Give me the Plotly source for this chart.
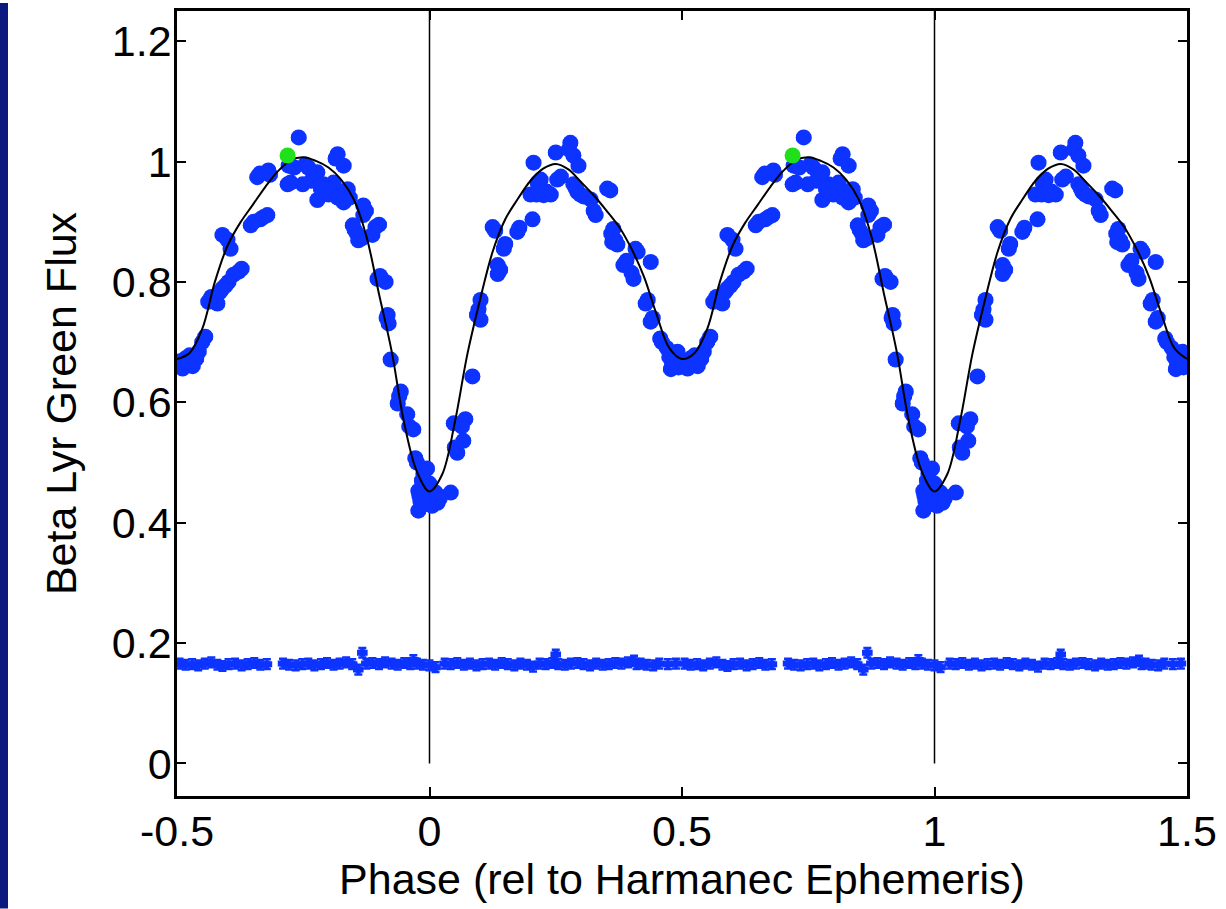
import plotly.graph_objects as go

# ---- data (one cycle, phase -0.5..0.5; plotted twice, shifted by +1) ----
phase = [-0.495, -0.489, -0.483, -0.475, -0.469, -0.457, -0.444, -0.438, -0.420, -0.410,
         -0.398, -0.378, -0.394, -0.410, -0.354, -0.335, -0.321, -0.341, -0.319, -0.281,
         -0.279, -0.259, -0.246, -0.251, -0.222, -0.182, -0.170, -0.210, -0.206, -0.222,
         -0.182, -0.162, -0.170, -0.131, -0.131, -0.152, -0.143, -0.107, -0.113, -0.141,
         -0.103, -0.087, -0.083, -0.081, -0.077, -0.057, -0.063, -0.044, -0.032, -0.028,
         -0.012, -0.022, -0.018, -0.022, -0.010, -0.005, 0.000, 0.005, 0.008, 0.016,
         0.042, 0.055, 0.067, 0.048, 0.071, 0.085, 0.101, 0.097, 0.101, 0.135,
         0.135, 0.147, 0.150, 0.125, 0.174, 0.204, 0.200, 0.226, 0.220, 0.206,
         0.253, 0.250, 0.240, 0.279, 0.285, 0.295, 0.285, 0.293, 0.299, 0.319,
         0.358, 0.329, 0.364, 0.368, 0.362, 0.408, 0.438, 0.384, 0.404, 0.428,
         0.438, 0.457, 0.475, 0.480, 0.491, 0.497,
         -0.486, -0.478, -0.462, -0.450, -0.432, -0.415, -0.404, -0.388, -0.400, -0.372,
         -0.348, -0.328, -0.336, -0.316, -0.275, -0.268, -0.240, -0.234, -0.215, -0.200,
         -0.190, -0.176, -0.186, -0.158, -0.126, -0.148, -0.135, -0.100, -0.098, -0.085,
         -0.060, -0.040, -0.025, -0.015, -0.020, -0.012, 0.012, 0.020, 0.050, 0.064,
         0.094, 0.140, 0.130, 0.178, 0.212, 0.232, 0.214, 0.260, 0.276, 0.290,
         0.305, 0.325, 0.352, 0.360, 0.372, 0.390, 0.400, 0.412, 0.432, 0.442,
         0.460, 0.470, 0.485, 0.493, 0.478]
flux = [0.668, 0.656, 0.673, 0.678, 0.660, 0.684, 0.709, 0.767, 0.764, 0.789,
        0.800, 0.817, 0.855, 0.878, 0.894, 0.904, 0.911, 0.974, 0.985, 0.962,
        0.993, 1.040, 0.995, 0.962, 0.982, 1.012, 0.993, 0.962, 0.949, 0.936,
        0.940, 0.954, 0.932, 0.927, 0.911, 0.894, 0.879, 0.891, 0.878, 0.869,
        0.805, 0.800, 0.745, 0.731, 0.671, 0.618, 0.598, 0.580, 0.555, 0.507,
        0.481, 0.453, 0.436, 0.420, 0.445, 0.490, 0.465, 0.428, 0.441, 0.433,
        0.450, 0.516, 0.536, 0.565, 0.572, 0.643, 0.737, 0.754, 0.770, 0.813,
        0.828, 0.855, 0.863, 0.891, 0.883, 0.904, 0.945, 0.944, 0.970, 0.998,
        0.970, 1.015, 0.945, 1.031, 1.010, 0.993, 0.962, 0.949, 0.945, 0.937,
        0.952, 0.911, 0.888, 0.869, 0.866, 0.855, 0.833, 0.828, 0.805, 0.764,
        0.734, 0.706, 0.675, 0.660, 0.684, 0.668,
        0.664, 0.668, 0.672, 0.700, 0.775, 0.783, 0.794, 0.812, 0.870, 0.822,
        0.900, 0.908, 0.980, 0.978, 0.965, 0.990, 0.990, 0.968, 0.955, 0.945,
        0.965, 0.950, 1.005, 0.940, 0.918, 0.886, 0.872, 0.895, 0.810, 0.740,
        0.610, 0.560, 0.500, 0.470, 0.445, 0.430, 0.450, 0.440, 0.525, 0.560,
        0.745, 0.820, 0.885, 0.890, 0.945, 0.950, 0.965, 0.975, 1.020, 0.955,
        0.942, 0.918, 0.955, 0.880, 0.862, 0.835, 0.815, 0.850, 0.770, 0.740,
        0.700, 0.690, 0.670, 0.658, 0.655]

green_phase = [-0.281]
green_flux = [1.010]

base_phase = [-0.495, -0.483, -0.470, -0.458, -0.445, -0.432, -0.420, -0.410, -0.398, -0.385,
              -0.372, -0.360, -0.347, -0.335, -0.322, -0.290, -0.278, -0.265, -0.252, -0.240,
              -0.228, -0.215, -0.203, -0.190, -0.178, -0.165, -0.153, -0.141, -0.133, -0.125,
              -0.113, -0.100, -0.088, -0.075, -0.063, -0.050, -0.038, -0.032, -0.025, -0.013,
              0.000, 0.012, 0.030, 0.042, 0.055, 0.068, 0.080, 0.093, 0.105, 0.118,
              0.130, 0.143, 0.155, 0.168, 0.180, 0.193, 0.205, 0.218, 0.230, 0.243,
              0.250, 0.255, 0.268, 0.280, 0.293, 0.305, 0.318, 0.330, 0.343, 0.355,
              0.368, 0.380, 0.393, 0.405, 0.410, 0.418, 0.430, 0.443, 0.455, 0.472,
              0.488]
base_flux = [0.166, 0.164, 0.165, 0.163, 0.166, 0.168, 0.164, 0.162, 0.165, 0.166,
             0.163, 0.165, 0.167, 0.164, 0.165, 0.166, 0.164, 0.163, 0.165, 0.166,
             0.163, 0.165, 0.167, 0.164, 0.166, 0.168, 0.165, 0.156, 0.184, 0.166,
             0.167, 0.165, 0.168, 0.166, 0.164, 0.167, 0.165, 0.172, 0.166, 0.164,
             0.163, 0.160, 0.166, 0.165, 0.167, 0.164, 0.166, 0.163, 0.165, 0.166,
             0.164, 0.167, 0.165, 0.163, 0.166, 0.164, 0.161, 0.166, 0.165, 0.167,
             0.181, 0.165, 0.164, 0.166, 0.167, 0.165, 0.163, 0.166, 0.164, 0.165,
             0.167, 0.166, 0.168, 0.171, 0.165, 0.166, 0.164, 0.163, 0.166, 0.165,
             0.166]

model_phase = [-0.5, -0.475, -0.45, -0.425, -0.4, -0.375, -0.35, -0.325, -0.3, -0.275,
               -0.25, -0.225, -0.2, -0.175, -0.15, -0.125, -0.1, -0.075, -0.05, -0.025,
               0.0, 0.025, 0.05, 0.075, 0.1, 0.125, 0.15, 0.175, 0.2, 0.225,
               0.25, 0.275, 0.3, 0.325, 0.35, 0.375, 0.4, 0.425, 0.45, 0.475]
model_flux = [0.672, 0.682, 0.722, 0.800, 0.860, 0.898, 0.928, 0.958, 0.984, 1.002,
              1.007, 1.001, 0.990, 0.970, 0.937, 0.876, 0.780, 0.685, 0.565, 0.485,
              0.452, 0.480, 0.566, 0.680, 0.770, 0.850, 0.904, 0.938, 0.968, 0.988,
              0.996, 0.987, 0.966, 0.944, 0.919, 0.892, 0.855, 0.808, 0.745, 0.690]

x_tickvals = [-0.5, 0, 0.5, 1, 1.5]
x_ticktext = ["-0.5", "0", "0.5", "1", "1.5"]
y_tickvals = [0, 0.2, 0.4, 0.6, 0.8, 1.0, 1.2]
y_ticktext = ["0", "0.2", "0.4", "0.6", "0.8", "1", "1.2"]
eclipse_phases = [0, 1]

# ---- build two cycles ----
def two(p):
    return list(p) + [v + 1 for v in p]

BLUE = "#0c33ff"
GREEN = "#1fe01a"

fig = go.Figure()

# vertical lines at primary eclipse
vx, vy = [], []
for e in eclipse_phases:
    vx += [e, e, None]
    vy += [0, 1.25, None]
fig.add_trace(go.Scatter(x=vx, y=vy, mode="lines",
                         line=dict(color="black", width=1.5), hoverinfo="skip"))

# comparison / baseline
fig.add_trace(go.Scatter(
    x=two(base_phase), y=base_flux + base_flux, mode="markers",
    marker=dict(color=BLUE, size=8),
    error_x=dict(type="constant", value=0.008, color=BLUE, thickness=2.5, width=3),
    error_y=dict(type="constant", value=0.008, color=BLUE, thickness=2.5, width=4)))

# target
fig.add_trace(go.Scatter(
    x=two(phase), y=flux + flux, mode="markers",
    marker=dict(color=BLUE, size=16),
    error_x=dict(type="constant", value=0.013, color=BLUE, thickness=2, width=3),
    error_y=dict(type="constant", value=0.008, color=BLUE, thickness=2, width=3)))

# model curve
mp = two(model_phase) + [1.5]
mf = model_flux + model_flux + [model_flux[0]]
fig.add_trace(go.Scatter(x=mp, y=mf, mode="lines", line_shape="spline",
                         line=dict(color="black", width=2)))

# highlighted point
fig.add_trace(go.Scatter(x=two(green_phase), y=green_flux + green_flux, mode="markers",
                         marker=dict(color=GREEN, size=16)))

axis_common = dict(showline=True, linecolor="black", linewidth=2.5, mirror="ticks",
                   ticks="inside", ticklen=9, tickwidth=1.5, tickcolor="black",
                   showgrid=False, zeroline=False,
                   tickfont=dict(family="Liberation Sans, Arial", size=43, color="black"))

fig.update_layout(
    width=1226, height=909,
    margin=dict(l=177, r=39, t=8, b=113),
    paper_bgcolor="white", plot_bgcolor="white",
    showlegend=False,
    font=dict(family="Liberation Sans, Arial", color="black"),
    xaxis=dict(range=[-0.5, 1.5], tickvals=x_tickvals, ticktext=x_ticktext,
               ticklabelstandoff=-4,
               title=dict(text="Phase (rel to Harmanec Ephemeris)",
                          font=dict(size=43), standoff=2),
               **axis_common),
    yaxis=dict(range=[-0.054, 1.25], tickvals=y_tickvals, ticktext=y_ticktext,
               ticklabelstandoff=-6,
               title=dict(text="Beta Lyr Green Flux", font=dict(size=43), standoff=22),
               **axis_common),
    shapes=[dict(type="rect", xref="paper", yref="paper",
                 x0=-177 / 1010, x1=-169 / 1010, y0=-113 / 788, y1=1 + 8 / 788,
                 fillcolor="#0c1a80", line=dict(width=0), layer="below")],
)

fig.write_html("out.html")
